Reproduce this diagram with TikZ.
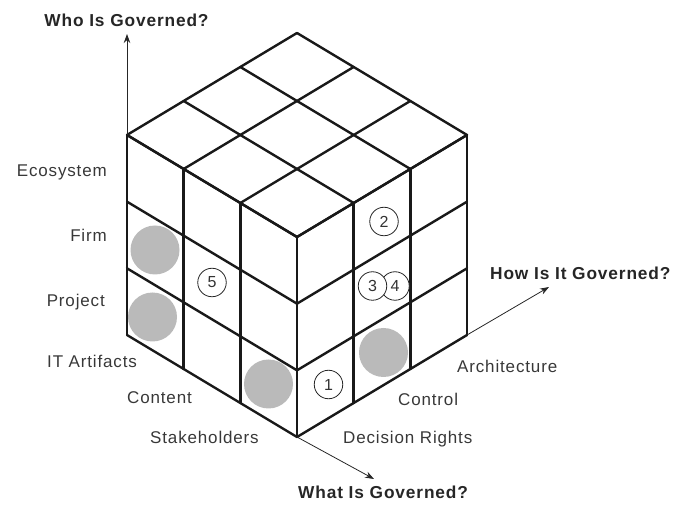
\documentclass[tikz,border=0pt]{standalone}
\usepackage{fontspec}
\setmainfont{Liberation Sans}
\newfontfamily\labfont[LetterSpace=5]{Liberation Sans}
\usetikzlibrary{arrows.meta,calc}
\begin{document}
\begin{tikzpicture}[x=1pt,y=-1pt,
  gridline/.style={line width=2.4pt, line cap=round, line join=round, black!90},
  axis/.style={line width=0.8pt, black!85, -{Stealth[length=9pt,width=6.5pt]}},
  lab/.style={font=\labfont\fontsize{17}{20}\selectfont, text=black!78, inner sep=0pt},
  blab/.style={font=\labfont\fontsize{17.3}{20}\selectfont\bfseries, text=black!85, inner sep=0pt},
  greydot/.style={circle, fill=black!27, minimum size=49pt, inner sep=0pt},
  num/.style={circle, draw=black!85, line width=0.8pt, fill=white, minimum size=28.5pt, inner sep=0pt, font=\fontsize{16}{16}\selectfont, text=black!80}
]
\useasboundingbox (0,0) rectangle (673,505);

% grey dots
\node[greydot] (g1) at (155,250) {};
\node[greydot] (g2) at (152.5,317) {};
\node[greydot] (g3) at (268.5,384) {};
\node[greydot] (g4) at (383.5,352.5) {};

% cube grid
\foreach \i in {0,...,3} {
  % top face
  \draw[gridline] (297-56.667*\i, 33+34*\i) -- ++(170,102);
  \draw[gridline] (297+56.667*\i, 33+34*\i) -- ++(-170,102);
  % left face
  \draw[gridline] (127, 135+66.667*\i) -- (297, 237+66.667*\i);
  \draw[gridline] (127+56.667*\i, 135+34*\i) -- ++(0,200);
  % right face
  \draw[gridline] (297, 237+66.667*\i) -- (467, 135+66.667*\i);
  \draw[gridline] (297+56.667*\i, 237-34*\i) -- ++(0,200);
}

% numbered circles
\node[num] (n1) at (328.5,384.5) {1};
\node[num] (n2) at (384,221.5) {2};
\node[num] (n4) at (395,286) {4};
\node[num] (n3) at (372.5,286) {3};
\node[num] (n5) at (212,282.5) {5};

% axes
\coordinate (A) at (127,135);
\coordinate (G) at (297,437);
\coordinate (Rb) at (467,335);
\coordinate (whoend) at (127,34);
\coordinate (whatend) at (374,479);
\coordinate (howend) at (549,287);
\draw[axis] (A) -- (whoend);
\draw[axis] (G) -- (whatend);
\draw[axis] (Rb) -- (howend);

% axis titles
\node[blab, anchor=base] (who) at (126.5,27) {Who Is Governed?};
\node[blab, anchor=base west] (what) at (298,498) {What Is Governed?};
\node[blab, anchor=base west] (how) at (490,280) {How Is It Governed?};

% labels
\node[lab, anchor=base east] (eco) at (107,177) {Ecosystem};
\node[lab, anchor=base east] (firm) at (107,242) {Firm};
\node[lab, anchor=base east] (proj) at (105,307) {Project};
\node[lab, anchor=base west] (ita) at (47,368) {IT Artifacts};
\node[lab, anchor=base west] (cont) at (127,403) {Content};
\node[lab, anchor=base west] (stake) at (150,443) {Stakeholders};
\node[lab, anchor=base west] (dec) at (343,443) {Decision Rights};
\node[lab, anchor=base west] (ctrl) at (398,406) {Control};
\node[lab, anchor=base west] (arch) at (457,373) {Architecture};
\end{tikzpicture}
\end{document}
